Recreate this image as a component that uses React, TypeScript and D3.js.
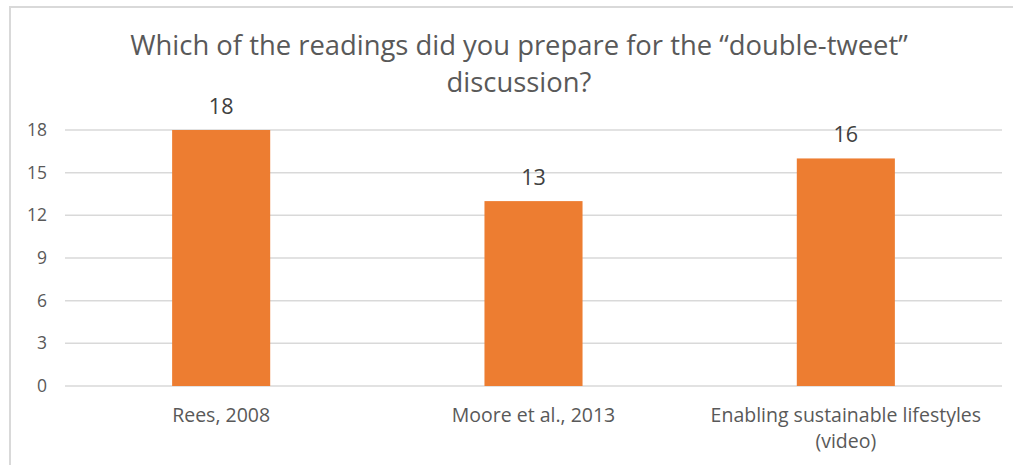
import React from "react";
import * as d3 from "d3";

const categories = ["Rees, 2008", "Moore et al., 2013", "Enabling sustainable lifestyles (video)"];
const categoryLines = [["Rees, 2008"], ["Moore et al., 2013"], ["Enabling sustainable lifestyles", "(video)"]];
const values = [18, 13, 16];
const yTicks = [0, 3, 6, 9, 12, 15, 18];
const titleLines = ["Which of the readings did you prepare for the \u201cdouble-tweet\u201d", "discussion?"];

const W = 1013;
const H = 465;
const FONT = "'Open Sans', 'DejaVu Sans', sans-serif";

export default function App() {
  const left = 65, right = 1002, top = 130, bottom = 386;
  const x = d3.scaleBand<string>().domain(categories).range([left, right]).paddingInner(0.686).paddingOuter(0.343);
  const y = d3.scaleLinear().domain([0, 18]).range([bottom, top]);
  return (
    <svg width={W} height={H} style={{ position: "absolute", left: 0, top: 0, background: "#fff" }}>
      <rect x={10} y={7} width={W + 20} height={H + 20} fill="#fff" stroke="#d9d9d9" strokeWidth={2} />
      {titleLines.map((t, i) => (
        <text key={i} x={519} y={55 + i * 37} textAnchor="middle" fontFamily={FONT} fontSize={27.4} fill="#595959">{t}</text>
      ))}
      {yTicks.map((t) => (
        <g key={t}>
          <line x1={left} x2={right} y1={y(t)} y2={y(t)} stroke="#d9d9d9" strokeWidth={1.5} />
          <text x={47} y={y(t)} dy="0.35em" textAnchor="end" fontFamily={FONT} fontSize={17.5} fill="#595959">{t}</text>
        </g>
      ))}
      {categories.map((c, i) => (
        <g key={c}>
          <rect x={x(c)} y={y(values[i])} width={x.bandwidth()} height={y(0) - y(values[i])} fill="#ED7D31" />
          <text x={x(c)! + x.bandwidth() / 2} y={y(values[i]) - 16} textAnchor="middle" fontFamily={FONT} fontSize={21.5} fill="#404040">{values[i]}</text>
          {categoryLines[i].map((l, j) => (
            <text key={j} x={x(c)! + x.bandwidth() / 2} y={422 + j * 26} textAnchor="middle" fontFamily={FONT} fontSize={19.5} fill="#595959">{l}</text>
          ))}
        </g>
      ))}
    </svg>
  );
}
